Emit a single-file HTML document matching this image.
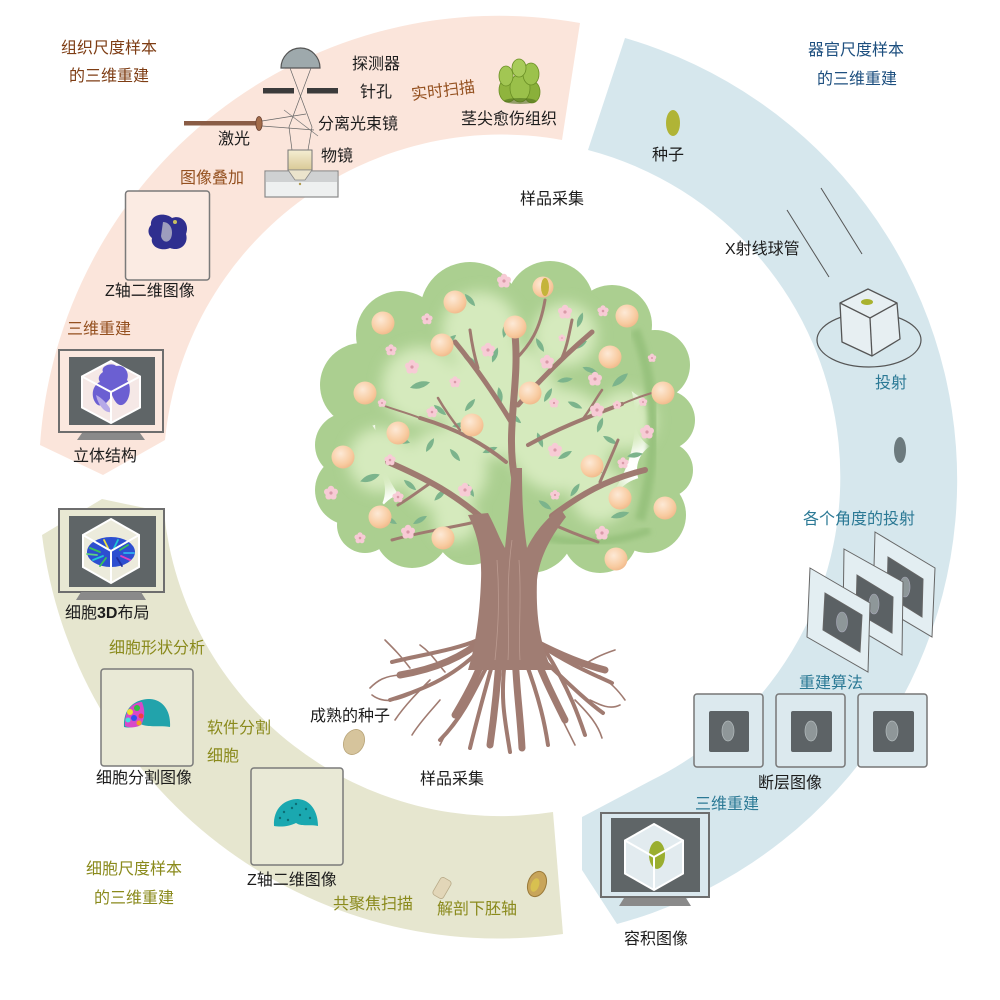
<!DOCTYPE html>
<html><head><meta charset="utf-8"><style>
html,body{margin:0;padding:0;background:#fff;}
svg{display:block;}
text{font-family:"Liberation Sans","Noto Sans CJK SC",sans-serif;font-size:16px;}
.k{fill:#1c1c1c}.br{fill:#7e3d14}.bo{fill:#94501f}.db{fill:#1d4f7f}.tl{fill:#2b7995}.ol{fill:#8a8a1c}
</style></head><body>
<svg width="1000" height="1000" viewBox="0 0 1000 1000" xmlns="http://www.w3.org/2000/svg">
<defs>
<filter id="bl" x="-20%" y="-20%" width="140%" height="140%"><feGaussianBlur stdDeviation="7"/></filter>
<filter id="bl2" x="-20%" y="-20%" width="140%" height="140%"><feGaussianBlur stdDeviation="2.5"/></filter>
<radialGradient id="fr" cx="0.4" cy="0.35" r="0.7"><stop offset="0" stop-color="#fde9d6"/><stop offset="0.7" stop-color="#f8cba0"/><stop offset="1" stop-color="#f0b88a"/></radialGradient>
<linearGradient id="obj" x1="0" y1="0" x2="0" y2="1"><stop offset="0" stop-color="#f5eed2"/><stop offset="1" stop-color="#d9c996"/></linearGradient>
<g id="fl"><circle cx="0" cy="-4" r="3.2" fill="#f7cbd5"/><circle cx="3.8" cy="-1.2" r="3.2" fill="#f7cbd5"/><circle cx="2.4" cy="3.3" r="3.2" fill="#f7cbd5"/><circle cx="-2.4" cy="3.3" r="3.2" fill="#f7cbd5"/><circle cx="-3.8" cy="-1.2" r="3.2" fill="#f7cbd5"/><circle r="1.6" fill="#d99aa8"/></g>
<g id="lf"><path d="M-8,0 Q0,-5 8,0 Q0,5 -8,0Z" fill="#7cb48c"/></g>
<circle id="fu" r="11.5" fill="url(#fr)"/>
</defs>

<!-- RING SEGMENTS -->
<path d="M40,445 A460,460 0 0 1 580,23 L562,140 A338,338 0 0 0 165,440 L103,475 Z" fill="#fbe5db"/>
<path d="M625,38 A460,460 0 0 1 617,924 L582,870 L582,817 L652,780 A338,338 0 0 0 588,150 Z" fill="#d6e7ed"/>
<path d="M102,499 L42,535 A460,460 0 0 0 563,934 L553,812 A338,338 0 0 1 164,512 Z" fill="#e6e6cf"/>

<!-- TREE -->
<g fill="#abcf90">
<circle cx="470" cy="312" r="50"/><circle cx="550" cy="305" r="44"/><circle cx="612" cy="325" r="40"/><circle cx="400" cy="335" r="44"/><circle cx="362" cy="385" r="42"/><circle cx="347" cy="445" r="32"/><circle cx="350" cy="490" r="35"/><circle cx="365" cy="525" r="28"/><circle cx="412" cy="530" r="38"/><circle cx="470" cy="530" r="35"/><circle cx="530" cy="528" r="45"/><circle cx="600" cy="535" r="38"/><circle cx="648" cy="515" r="38"/><circle cx="665" cy="470" r="28"/><circle cx="665" cy="420" r="30"/><circle cx="655" cy="365" r="35"/><circle cx="505" cy="420" r="130"/>
</g>
<g fill="#d5eabd" filter="url(#bl)">
<circle cx="480" cy="330" r="38"/><circle cx="565" cy="335" r="32"/><circle cx="420" cy="385" r="38"/><circle cx="380" cy="460" r="32"/><circle cx="445" cy="470" r="42"/><circle cx="560" cy="440" r="52"/><circle cx="625" cy="420" r="30"/><circle cx="500" cy="400" r="58"/><circle cx="600" cy="495" r="28"/><circle cx="455" cy="520" r="22"/>
</g>
<path d="M635,330 C655,380 660,450 640,520" stroke="#98c27e" stroke-width="10" fill="none" filter="url(#bl2)"/>
<path d="M540,535 C570,545 610,545 650,530" stroke="#98c27e" stroke-width="8" fill="none" filter="url(#bl2)"/>

<!-- leaves -->
<g>
<use href="#lf" transform="translate(450,340) rotate(-40)"/><use href="#lf" transform="translate(470,360) rotate(30)"/><use href="#lf" transform="translate(495,355) rotate(-70)"/><use href="#lf" transform="translate(540,345) rotate(60)"/><use href="#lf" transform="translate(580,345) rotate(-30)"/><use href="#lf" transform="translate(590,370) rotate(20)"/><use href="#lf" transform="translate(420,385) rotate(-15) scale(1.3)"/><use href="#lf" transform="translate(440,410) rotate(40)"/><use href="#lf" transform="translate(470,405) rotate(-50)"/><use href="#lf" transform="translate(500,395) rotate(80)"/><use href="#lf" transform="translate(548,395) rotate(-60)"/><use href="#lf" transform="translate(575,405) rotate(25)"/><use href="#lf" transform="translate(620,380) rotate(-40) scale(1.3)"/><use href="#lf" transform="translate(400,440) rotate(15) scale(1.3)"/><use href="#lf" transform="translate(430,445) rotate(-60)"/><use href="#lf" transform="translate(455,455) rotate(50)"/><use href="#lf" transform="translate(490,450) rotate(-20)"/><use href="#lf" transform="translate(540,440) rotate(70)"/><use href="#lf" transform="translate(565,455) rotate(-30)"/><use href="#lf" transform="translate(610,440) rotate(30)"/><use href="#lf" transform="translate(635,455) rotate(-10)"/><use href="#lf" transform="translate(370,478) rotate(-20) scale(1.3)"/><use href="#lf" transform="translate(410,485) rotate(40)"/><use href="#lf" transform="translate(440,495) rotate(-45)"/><use href="#lf" transform="translate(470,490) rotate(60)"/><use href="#lf" transform="translate(575,490) rotate(-55)"/><use href="#lf" transform="translate(595,470) rotate(20)"/><use href="#lf" transform="translate(620,515) rotate(-15) scale(1.2)"/><use href="#lf" transform="translate(390,520) rotate(30)"/><use href="#lf" transform="translate(420,520) rotate(-30)"/><use href="#lf" transform="translate(470,300) rotate(50)"/><use href="#lf" transform="translate(505,330) rotate(-80)"/><use href="#lf" transform="translate(580,320) rotate(-70)"/><use href="#lf" transform="translate(565,380) rotate(-10)"/><use href="#lf" transform="translate(515,418) rotate(40)"/><use href="#lf" transform="translate(460,425) rotate(-10)"/><use href="#lf" transform="translate(545,505) rotate(35)"/><use href="#lf" transform="translate(600,425) rotate(-70)"/>
</g>

<!-- trunk and branches -->
<g stroke="#9f7a70" fill="none" stroke-linecap="round">
<path d="M515,480 C505,430 520,385 515,335" stroke-width="7"/>
<path d="M513,425 C495,395 478,370 455,342" stroke-width="5"/>
<path d="M518,405 C540,380 565,355 592,332" stroke-width="5"/>
<path d="M482,518 C455,495 430,480 388,462" stroke-width="6"/>
<path d="M432,482 C420,490 410,498 398,505" stroke-width="3"/>
<path d="M552,516 C580,495 605,480 645,470" stroke-width="6"/>
<path d="M600,482 C606,468 612,455 618,440" stroke-width="3"/>
<path d="M506,462 C485,445 460,430 420,418" stroke-width="4"/>
<path d="M528,445 C555,430 585,418 622,404" stroke-width="4"/>
<path d="M478,368 C474,355 472,345 470,330" stroke-width="3"/>
<path d="M560,362 C566,350 568,340 572,320" stroke-width="3"/>
<path d="M460,430 C452,420 445,410 438,398" stroke-width="2.5"/>
<path d="M582,420 C590,410 595,400 602,390" stroke-width="2.5"/>
<path d="M475,522 C450,528 420,532 392,540" stroke-width="3"/>
<path d="M548,522 C565,530 580,536 598,542" stroke-width="3"/>
<path d="M515,360 C530,345 540,330 545,300" stroke-width="3"/>
<path d="M420,418 C405,412 395,410 382,405" stroke-width="2"/>
<path d="M622,404 C635,398 645,395 655,392" stroke-width="2"/>
</g>
<!-- roots -->
<g stroke="#a07b71" fill="none" stroke-linecap="round">
<g stroke-width="7">
<path d="M490,640 C480,670 470,690 455,715"/>
<path d="M500,645 C498,680 495,710 490,745"/>
<path d="M515,645 C515,680 520,710 522,748"/>
<path d="M530,640 C540,670 550,690 565,720"/>
<path d="M485,638 C460,660 430,670 400,675"/>
<path d="M535,642 C560,655 585,665 605,670"/>
</g>
<g stroke-width="4">
<path d="M480,650 C450,680 420,690 390,700"/>
<path d="M478,640 C455,650 420,655 392,662"/>
<path d="M540,645 C570,665 595,675 612,683"/>
<path d="M538,655 C565,680 585,700 603,713"/>
<path d="M505,660 C500,700 505,720 510,752"/>
<path d="M525,660 C540,700 545,725 548,745"/>
<path d="M490,660 C470,700 460,720 440,740"/>
<path d="M545,650 C570,690 580,720 585,735"/>
<path d="M495,655 C485,690 478,715 470,748"/>
</g>
<g stroke-width="1.6">
<path d="M410,668 C400,655 395,650 385,640"/>
<path d="M430,680 C420,690 405,705 395,720"/>
<path d="M420,690 C400,700 385,705 372,695"/>
<path d="M400,675 C385,676 378,680 370,688"/>
<path d="M580,668 C590,660 600,655 615,650"/>
<path d="M590,700 C600,705 610,710 620,705"/>
<path d="M460,715 C450,725 445,735 440,745"/>
<path d="M560,715 C565,725 570,735 575,745"/>
<path d="M445,672 C435,660 430,652 420,645"/>
<path d="M600,676 C610,682 618,690 625,700"/>
<path d="M440,700 C430,712 420,722 412,735"/>
<path d="M575,700 C590,715 598,725 602,738"/>
</g>
</g>
<path d="M468,670 C476,645 480,610 481,580 C482,555 478,535 468,515 L488,513 C496,528 500,540 505,548 C508,520 510,495 512,468 L522,468 C522,500 523,520 527,548 C535,532 545,520 560,508 L566,517 C552,535 540,555 537,580 C536,610 538,640 552,670 Z" fill="#a07d73"/>
<g stroke="#c7a79c" stroke-width="0.8" fill="none" opacity="0.7">
<path d="M495,660 C498,630 500,600 497,560"/><path d="M520,660 C518,630 522,600 519,560"/><path d="M508,660 C510,630 505,590 512,540"/>
</g>

<!-- fruits -->
<g>
<use href="#fu" x="383" y="323"/><use href="#fu" x="455" y="302"/><use href="#fu" x="442" y="345"/><use href="#fu" x="515" y="327"/><use href="#fu" x="627" y="316"/><use href="#fu" x="610" y="357"/><use href="#fu" x="663" y="393"/><use href="#fu" x="365" y="393"/><use href="#fu" x="398" y="433"/><use href="#fu" x="530" y="393"/><use href="#fu" x="472" y="425"/><use href="#fu" x="343" y="457"/><use href="#fu" x="592" y="466"/><use href="#fu" x="380" y="517"/><use href="#fu" x="443" y="538"/><use href="#fu" x="620" y="498"/><use href="#fu" x="665" y="508"/><use href="#fu" x="616" y="559"/>
</g>
<circle cx="543" cy="287" r="10.5" fill="url(#fr)"/>
<ellipse cx="545" cy="287" rx="4" ry="9" fill="#c4b43a"/>
<!-- flowers -->
<g>
<use href="#fl" transform="translate(504,281)"/><use href="#fl" transform="translate(565,312)"/><use href="#fl" transform="translate(603,311) scale(0.8)"/><use href="#fl" transform="translate(427,319) scale(0.8)"/><use href="#fl" transform="translate(391,350) scale(0.8)"/><use href="#fl" transform="translate(488,350)"/><use href="#fl" transform="translate(547,362)"/><use href="#fl" transform="translate(412,367)"/><use href="#fl" transform="translate(652,358) scale(0.6)"/><use href="#fl" transform="translate(562,338) scale(0.5)"/><use href="#fl" transform="translate(595,379)"/><use href="#fl" transform="translate(455,382) scale(0.8)"/><use href="#fl" transform="translate(382,403) scale(0.6)"/><use href="#fl" transform="translate(432,412) scale(0.8)"/><use href="#fl" transform="translate(554,403) scale(0.7)"/><use href="#fl" transform="translate(597,410)"/><use href="#fl" transform="translate(617,405) scale(0.6)"/><use href="#fl" transform="translate(643,402) scale(0.6)"/><use href="#fl" transform="translate(647,432)"/><use href="#fl" transform="translate(555,450)"/><use href="#fl" transform="translate(623,463) scale(0.8)"/><use href="#fl" transform="translate(390,460) scale(0.8)"/><use href="#fl" transform="translate(331,493)"/><use href="#fl" transform="translate(465,490)"/><use href="#fl" transform="translate(398,497) scale(0.8)"/><use href="#fl" transform="translate(555,495) scale(0.7)"/><use href="#fl" transform="translate(408,532)"/><use href="#fl" transform="translate(360,538) scale(0.8)"/><use href="#fl" transform="translate(602,533)"/>
</g>

<!-- MICROSCOPE -->
<path d="M281,68 A19.5,20 0 0 1 320,68 Z" fill="#9ea9ac" stroke="#555" stroke-width="1.2"/>
<g stroke="#666" stroke-width="0.7" fill="none">
<path d="M290,68 L312,127 L308,150"/><path d="M311,68 L289,127 L292,150"/>
<path d="M262,121 L306,114"/><path d="M262,126 L314,130"/>
<path d="M284,110 L318,136" stroke="#777"/>
</g>
<rect x="263" y="88" width="31" height="5.5" fill="#3b3b3b"/>
<rect x="307" y="88" width="31" height="5.5" fill="#3b3b3b"/>
<rect x="184" y="121" width="74" height="4.5" fill="#8a5c45"/>
<ellipse cx="259" cy="123.5" rx="3.2" ry="7" fill="#a36c4a" stroke="#6a4030" stroke-width="0.8"/>
<rect x="265" y="171" width="73" height="26" fill="#eef0f0" stroke="#8a8a8a" stroke-width="1.2"/>
<rect x="266" y="172" width="71" height="10" fill="#cfd1d2"/>
<rect x="288" y="150" width="24" height="20" fill="url(#obj)" stroke="#777" stroke-width="1"/>
<path d="M288,170 L312,170 L305,180 L295,180 Z" fill="#ebe4cc" stroke="#888" stroke-width="0.8"/>
<circle cx="300" cy="184" r="1.2" fill="#b09a50"/>

<!-- callus -->
<g stroke="#6a8f25" stroke-width="0.8">
<ellipse cx="508" cy="90" rx="9" ry="12" fill="#8fb43e"/>
<ellipse cx="532" cy="92" rx="8" ry="11" fill="#8ab03a"/>
<ellipse cx="520" cy="88" rx="10" ry="14" fill="#9ac04a"/>
<ellipse cx="506" cy="76" rx="7" ry="10" fill="#a2c653"/>
<ellipse cx="531" cy="74" rx="8" ry="11" fill="#9cc24c"/>
<ellipse cx="519" cy="68" rx="7" ry="9" fill="#a8cb5a"/>
</g>
<ellipse cx="520" cy="101" rx="16" ry="3" fill="#4e6e1c" opacity="0.6"/>

<!-- tissue Z box -->
<rect x="125.5" y="191" width="84" height="89" rx="3" fill="#fbebe3" stroke="#7a7a7a" stroke-width="1.5"/>
<path d="M151,225 C150,214 165,212 172,218 C182,214 190,224 186,234 C189,244 180,252 170,248 C160,252 150,246 152,238 C147,234 148,228 151,225Z" fill="#2f2f8f"/>
<path d="M163,222 C170,222 174,230 171,238 C168,244 162,242 161,236 Z" fill="#b9b9c8" opacity="0.8"/>
<circle cx="175" cy="222" r="2" fill="#c8c060"/>

<!-- tissue monitor -->
<rect x="59" y="350" width="104" height="82" fill="#fbe8df" stroke="#6e6e6e" stroke-width="2"/>
<rect x="69" y="357" width="86" height="68" fill="#5f6567"/>
<path d="M82,433 L140,433 L145,440 L77,440 Z" fill="#8a8a8a"/>
<polygon points="111,361 140,376.5 140,407.5 111,423 82,407.5 82,376.5" fill="#f5e8e6" stroke="#fff" stroke-width="2"/>
<path d="M103,372 C100,366 112,362 116,366 C124,364 130,372 127,380 C132,386 130,400 124,404 C118,408 114,400 112,395 C108,403 100,410 95,402 C90,394 94,384 100,382 C97,378 100,374 103,372Z" fill="#6b5fd2"/>
<path d="M96,395 C98,405 105,414 112,412 C108,404 102,398 96,395Z" fill="#b6a9e8"/>
<g stroke="#fff" stroke-width="2"><line x1="111" y1="392" x2="111" y2="423"/><line x1="111" y1="392" x2="82" y2="376.5"/><line x1="111" y1="392" x2="140" y2="376.5"/></g>

<!-- X-ray + cube -->
<line x1="787" y1="210" x2="829" y2="277" stroke="#555" stroke-width="1"/>
<line x1="821" y1="188" x2="862" y2="254" stroke="#555" stroke-width="1"/>
<ellipse cx="869" cy="340" rx="52" ry="27" fill="none" stroke="#555" stroke-width="1.2"/>
<polygon points="840,303 868,289 897,303 900,339 872,356 842,342" fill="#e7eff2" stroke="#555" stroke-width="1.3" stroke-linejoin="round"/>
<polyline points="840,303 870,318 897,303" fill="none" stroke="#555" stroke-width="1.3"/>
<line x1="870" y1="318" x2="872" y2="356" stroke="#555" stroke-width="1.3"/>
<ellipse cx="867" cy="302" rx="6" ry="3" fill="#a9b22e"/>
<ellipse cx="673" cy="123" rx="7" ry="13" fill="#b0b436"/>
<ellipse cx="900" cy="450" rx="6" ry="13" fill="#6c7a7e"/>

<!-- projection frames -->
<g stroke="#666" stroke-width="1">
<polygon points="875,532 935,568 932,637 873,602" fill="#e3eef2"/>
<polygon points="888,557 923,579 922,617 887,595" fill="#5b6164"/>
<ellipse cx="905" cy="587" rx="5" ry="10" fill="#8e9799" stroke="#aab" stroke-width="0.6"/>
<polygon points="844,549 903,582 902,655 843,620" fill="#e3eef2"/>
<polygon points="857,575 893,597 892,633 856,612" fill="#5b6164"/>
<ellipse cx="874" cy="604" rx="5" ry="10" fill="#8e9799" stroke="#aab" stroke-width="0.6"/>
<polygon points="810,568 870,603 868,672 807,637" fill="#e3eef2"/>
<polygon points="825,593 862,615 860,652 823,630" fill="#5b6164"/>
<ellipse cx="842" cy="622" rx="5.5" ry="10" fill="#8e9799" stroke="#aab" stroke-width="0.6"/>
</g>

<!-- tomography boxes -->
<g>
<rect x="694" y="694" width="69" height="73" rx="3" fill="#dce9ee" stroke="#777" stroke-width="1.5"/>
<rect x="709" y="711" width="40" height="41" rx="2" fill="#5d6366"/>
<ellipse cx="728" cy="731" rx="6" ry="10" fill="#8f9799" stroke="#b4bcbe" stroke-width="0.7"/>
<rect x="776" y="694" width="69" height="73" rx="3" fill="#dce9ee" stroke="#777" stroke-width="1.5"/>
<rect x="791" y="711" width="41" height="41" rx="2" fill="#5d6366"/>
<ellipse cx="811" cy="731" rx="6" ry="10" fill="#8f9799" stroke="#b4bcbe" stroke-width="0.7"/>
<rect x="858" y="694" width="69" height="73" rx="3" fill="#dce9ee" stroke="#777" stroke-width="1.5"/>
<rect x="873" y="711" width="41" height="41" rx="2" fill="#5d6366"/>
<ellipse cx="892" cy="731" rx="6" ry="10" fill="#8f9799" stroke="#b4bcbe" stroke-width="0.7"/>
</g>

<!-- volume monitor -->
<rect x="601" y="813" width="108" height="84" fill="#dae8ee" stroke="#6e6e6e" stroke-width="2"/>
<rect x="611" y="818" width="89" height="74" fill="#5f6567"/>
<path d="M624,898 L686,898 L691,906 L619,906 Z" fill="#8a8a8a"/>
<polygon points="654,824 683,840.5 683,873.5 654,890 625,873.5 625,840.5" fill="#e2ebef" stroke="#fff" stroke-width="2"/>
<ellipse cx="657" cy="855" rx="8" ry="14" fill="#9aae2f"/>
<g stroke="#fff" stroke-width="2"><line x1="654" y1="857" x2="654" y2="890"/><line x1="654" y1="857" x2="625" y2="840.5"/><line x1="654" y1="857" x2="683" y2="840.5"/></g>

<!-- cell 3D monitor -->
<rect x="59" y="509" width="105" height="83" fill="#e8e8d3" stroke="#6e6e6e" stroke-width="2"/>
<rect x="69" y="516" width="87" height="71" fill="#5f6567"/>
<path d="M81,592 L141,592 L146,600 L76,600 Z" fill="#8a8a8a"/>
<polygon points="111,519 139,535 139,567 111,583 83,567 83,535" fill="#ecebdc" stroke="#fff" stroke-width="2"/>
<ellipse cx="111" cy="552" rx="24" ry="15" fill="#2d4fd0"/>
<g stroke-width="1.8" stroke-linecap="round">
<line x1="90" y1="548" x2="100" y2="552" stroke="#38c25a"/><line x1="93" y1="560" x2="103" y2="556" stroke="#1ec9d6"/><line x1="128" y1="545" x2="120" y2="550" stroke="#38c25a"/><line x1="130" y1="560" x2="121" y2="556" stroke="#e040c0"/><line x1="104" y1="540" x2="108" y2="548" stroke="#f0e040"/><line x1="118" y1="540" x2="114" y2="548" stroke="#1ec9d6"/><line x1="100" y1="566" x2="106" y2="558" stroke="#38c25a"/><line x1="122" y1="566" x2="117" y2="558" stroke="#2030a0"/><line x1="87" y1="554" x2="97" y2="555" stroke="#60d080"/><line x1="134" y1="553" x2="124" y2="553" stroke="#30b0f0"/>
</g>
<g stroke="#fff" stroke-width="2"><line x1="111" y1="551" x2="111" y2="583"/><line x1="111" y1="551" x2="83" y2="535"/><line x1="111" y1="551" x2="139" y2="535"/></g>

<!-- cell seg box -->
<rect x="101" y="669" width="92" height="97" rx="3" fill="#e9e9d6" stroke="#7a7a7a" stroke-width="1.5"/>
<path d="M124,727 C123,708 135,699 150,699 C164,700 171,712 170,727 C160,725 150,728 140,724 C134,728 128,728 124,727Z" fill="#22a3ab"/>
<path d="M125,726 C124,710 133,702 142,702 C146,712 144,720 141,725 C135,728 129,728 125,726Z" fill="#d848c8"/>
<circle cx="130" cy="712" r="3" fill="#f0e030"/><circle cx="137" cy="708" r="3" fill="#30c040"/><circle cx="134" cy="718" r="3" fill="#3050f0"/><circle cx="141" cy="716" r="2.5" fill="#f04040"/><circle cx="128" cy="720" r="2.5" fill="#40e0e0"/><circle cx="139" cy="723" r="2.5" fill="#f0a020"/>

<!-- cell Z box -->
<rect x="251" y="768" width="92" height="97" rx="3" fill="#e9e9d6" stroke="#7a7a7a" stroke-width="1.5"/>
<path d="M274,826 C273,808 285,799 298,799 C311,800 318,812 318,826 C310,824 302,827 296,823 C288,827 280,827 274,826Z" fill="#1aa8b0"/>
<g fill="#0d6d74"><circle cx="284" cy="812" r="1.2"/><circle cx="292" cy="808" r="1.2"/><circle cx="300" cy="815" r="1.2"/><circle cx="288" cy="820" r="1.2"/><circle cx="306" cy="809" r="1.2"/><circle cx="310" cy="818" r="1.2"/><circle cx="280" cy="818" r="1.2"/><circle cx="296" cy="804" r="1.2"/></g>

<!-- seeds bottom -->
<ellipse cx="354" cy="742" rx="10" ry="13" transform="rotate(25 354 742)" fill="#d6c49c" stroke="#b8a478" stroke-width="0.8"/>
<rect x="436" y="878" width="12" height="20" rx="3" transform="rotate(30 442 888)" fill="#e2d6b8" stroke="#b8aa88" stroke-width="0.8"/>
<ellipse cx="537" cy="884" rx="9" ry="13" transform="rotate(20 537 884)" fill="#c8a55a" stroke="#9a7a3a" stroke-width="1"/>
<ellipse cx="535" cy="885" rx="4" ry="7" transform="rotate(20 535 885)" fill="#d8c050"/>

<!-- TEXT -->
<text class="br" x="61" y="53">组织尺度样本</text>
<text class="br" x="69" y="81">的三维重建</text>
<text class="k" x="352" y="69">探测器</text>
<text class="k" x="360" y="97">针孔</text>
<text class="bo" x="411" y="96" transform="rotate(-7 443 90)">实时扫描</text>
<text class="k" x="318" y="129">分离光束镜</text>
<text class="k" x="218" y="144">激光</text>
<text class="k" x="321" y="161">物镜</text>
<text class="k" x="461" y="124">茎尖愈伤组织</text>
<text class="bo" x="180" y="183">图像叠加</text>
<text class="k" x="105" y="296">Z轴二维图像</text>
<text class="bo" x="67" y="334">三维重建</text>
<text class="k" x="73" y="461">立体结构</text>
<text class="k" x="520" y="204">样品采集</text>

<text class="db" x="808" y="55">器官尺度样本</text>
<text class="db" x="817" y="84">的三维重建</text>
<text class="k" x="652" y="160">种子</text>
<text class="k" x="725" y="254">X射线球管</text>
<text class="tl" x="875" y="388">投射</text>
<text class="tl" x="803" y="524">各个角度的投射</text>
<text class="tl" x="799" y="688">重建算法</text>
<text class="k" x="758" y="788">断层图像</text>
<text class="tl" x="695" y="809">三维重建</text>
<text class="k" x="624" y="944">容积图像</text>

<text class="k" x="65" y="618">细胞<tspan font-weight="bold">3D</tspan>布局</text>
<text class="ol" x="109" y="653">细胞形状分析</text>
<text class="ol" x="207" y="733">软件分割</text>
<text class="ol" x="207" y="761">细胞</text>
<text class="k" x="96" y="783">细胞分割图像</text>
<text class="k" x="247" y="885">Z轴二维图像</text>
<text class="ol" x="86" y="874">细胞尺度样本</text>
<text class="ol" x="94" y="903">的三维重建</text>
<text class="ol" x="333" y="909">共聚焦扫描</text>
<text class="ol" x="437" y="914">解剖下胚轴</text>
<text class="k" x="310" y="721">成熟的种子</text>
<text class="k" x="420" y="784">样品采集</text>
</svg>
</body></html>
